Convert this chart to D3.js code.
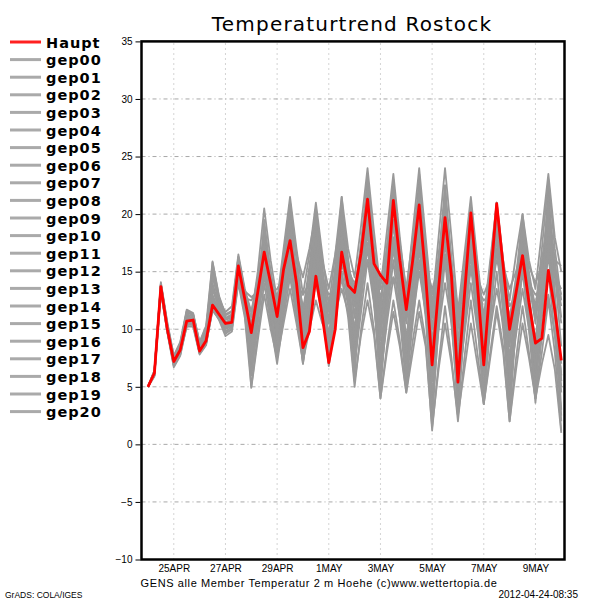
<!DOCTYPE html>
<html><head><meta charset="utf-8">
<script src="https://cdn.jsdelivr.net/npm/d3@7"></script>
<style>body{margin:0;background:#fff} svg{display:block}</style>
</head><body><svg id="c" width="600" height="600"></svg>
<script>
// 6-hourly steps from 24APR 00Z to 10MAY 00Z
const stepHours = 6;
const xTickHours = [24, 72, 120, 168, 216, 264, 312, 360];
const xTickLabels = ["25APR", "27APR", "29APR", "1MAY", "3MAY", "5MAY", "7MAY", "9MAY"];
const yTicks = [-10, -5, 0, 5, 10, 15, 20, 25, 30, 35];
const legendNames = ["Haupt","gep00","gep01","gep02","gep03","gep04","gep05","gep06","gep07","gep08","gep09","gep10","gep11","gep12","gep13","gep14","gep15","gep16","gep17","gep18","gep19","gep20"];

const haupt = [5.0,6.2,13.7,10.0, 7.2,8.2,10.7,10.8, 8.1,9.0,12.1,11.3, 10.5,10.6,15.5,12.6, 9.7,13.2,16.7,14.0, 11.1,15.2,17.7,14.0, 8.4,9.8,14.6,11.1, 7.1,10.0,16.7,13.8, 13.2,16.6,21.3,15.7, 14.7,14.0,21.2,16.0, 11.7,16.0,20.8,14.6, 6.9,13.5,19.7,14.6, 5.4,12.9,20.1,14.0, 6.9,14.0,20.9,15.5, 10.0,13.2,16.4,12.3, 8.8,9.2,15.1,11.7, 7.3];

const gep00 = [5.0,6.1,13.5,10.1, 7.0,8.0,10.9,10.6, 8.0,9.2,12.6,11.5, 10.2,10.8,15.2,12.4, 9.0,12.8,17.5,14.2, 10.5,14.6,19.0,15.0, 10.2,13.0,17.5,13.6, 9.5,13.8,19.5,15.2, 11.0,16.0,22.0,16.5, 10.2,15.0,20.5,15.0, 9.0,14.5,19.8,14.0, 8.0,14.5,21.0,15.2, 9.0,13.2,17.5,13.0, 8.0,13.0,18.2,13.5, 7.5,12.0,17.0,12.8, 9.0,14.5,20.5,15.0, 10.5];
const gep01 = [5.0,6.3,13.8,10.2, 7.4,8.4,10.4,10.5, 8.3,9.3,11.8,11.0, 10.3,10.4,14.8,12.0, 8.5,11.5,14.5,12.0, 9.0,12.5,15.5,12.5, 8.0,11.0,14.0,11.2, 7.5,11.0,15.0,12.0, 7.0,11.5,16.0,12.2, 6.0,10.5,14.5,11.0, 7.5,11.0,15.0,11.5, 6.0,10.0,14.0,10.5, 5.0,9.5,14.0,10.0, 6.5,10.0,13.5,10.5, 5.5,9.5,13.5,10.0, 6.0,9.5,13.0,9.5, 5.0];
const gep02 = [5.0,6.0,13.2,9.8, 6.8,7.8,11.2,10.9, 7.9,8.7,13.5,11.8, 9.6,10.0,16.0,13.0, 6.0,11.0,19.5,14.5, 8.0,14.0,20.5,14.0, 7.5,13.5,20.0,13.5, 7.0,14.5,21.5,14.5, 6.0,15.0,23.5,15.0, 5.0,14.5,23.0,14.0, 5.5,14.5,23.5,14.5, 2.5,12.5,22.5,13.0, 3.0,12.0,21.0,12.5, 4.0,12.5,21.0,12.5, 3.5,11.5,19.0,11.0, 4.0,13.0,22.5,13.0, 3.0];
const gep03 = [5.0,6.4,14.0,10.5, 7.6,8.8,11.5,11.2, 8.6,9.8,15.8,12.8, 11.2,11.5,16.3,13.3, 12.8,13.2,13.5,13.2, 13.5,14.5,15.0,14.0, 13.0,14.0,16.0,14.5, 13.0,13.5,15.5,14.5, 12.5,13.5,16.0,14.0, 13.0,13.0,14.5,13.5, 12.0,12.5,15.5,14.0, 11.0,12.5,16.5,13.5, 12.0,13.0,15.0,13.5, 12.5,13.0,16.0,14.5, 12.0,13.0,15.5,14.0, 13.0,13.5,16.5,14.5, 13.5];
const gep04 = [5.0,6.2,13.6,9.8, 7.1,8.1,10.6,10.7, 8.2,9.1,12.3,11.4, 10.4,10.7,15.8,12.8, 10.5,13.5,17.8,14.8, 11.5,15.5,18.5,14.5, 9.0,12.5,17.0,13.0, 8.0,12.5,18.0,14.0, 10.0,15.0,20.5,15.0, 8.0,13.5,19.5,14.5, 10.5,15.0,19.0,14.0, 9.0,13.5,18.0,13.5, 7.0,12.5,18.5,13.5, 9.0,13.5,18.5,14.0, 10.5,14.0,18.5,14.5, 11.0,15.5,19.5,15.0, 12.0];
const gep05 = [5.0,6.0,13.9,10.4, 7.5,8.5,11.0,11.0, 8.4,9.5,14.0,12.0, 10.8,11.0,15.0,12.2, 8.0,12.0,16.0,12.5, 9.5,13.5,17.0,13.0, 9.5,12.5,16.5,12.5, 11.0,14.5,18.5,15.5, 13.5,17.0,21.5,17.0, 12.5,16.0,21.5,16.5, 11.5,16.0,21.0,15.5, 10.0,15.5,20.0,15.0, 10.0,14.5,19.0,14.0, 9.5,14.5,20.0,15.0, 9.0,13.0,17.0,12.5, 7.0,12.0,17.5,12.0, 6.0];
const gep06 = [5.0,6.1,13.4,9.9, 6.9,7.9,10.2,10.3, 7.9,8.8,11.6,10.9, 9.8,10.2,14.3,11.5, 6.5,10.5,15.0,11.0, 7.5,11.5,16.0,12.0, 7.0,11.5,17.0,12.5, 8.0,12.0,17.0,12.5, 8.5,13.0,18.5,13.0, 7.0,12.0,17.5,12.0, 6.0,11.5,17.0,11.5, 5.5,11.0,16.5,11.0, 4.0,10.5,16.5,11.0, 5.0,11.0,17.0,11.5, 5.0,10.0,15.0,10.5, 5.5,11.0,16.5,11.0, 5.5];
const gep07 = [5.0,6.3,13.7,10.3, 7.3,8.6,11.5,11.3, 8.7,9.9,15.2,12.5, 11.0,11.3,16.0,13.0, 11.0,15.0,20.5,16.0, 12.5,17.0,21.5,17.0, 13.0,16.5,21.0,16.5, 12.0,16.5,21.5,17.0, 14.5,19.0,24.0,18.5, 13.5,18.5,23.5,18.0, 13.0,18.5,24.0,18.0, 12.0,18.0,24.0,18.0, 11.5,16.5,21.5,16.0, 11.0,16.0,21.0,16.0, 12.5,16.5,20.0,16.0, 13.5,18.5,23.5,18.0, 15.0];
const gep08 = [5.0,5.9,13.3,9.7, 6.7,7.7,10.3,10.2, 7.8,8.6,11.8,10.8, 9.4,9.8,14.0,11.0, 5.0,9.5,14.0,10.5, 7.0,11.0,14.5,11.0, 7.5,11.0,15.0,11.5, 6.8,10.5,14.5,11.0, 5.0,10.0,14.0,10.0, 4.0,8.5,12.5,9.0, 4.5,9.0,12.5,9.0, 1.2,7.0,12.0,7.5, 2.0,7.5,12.5,8.0, 3.5,8.0,12.0,8.5, 2.0,7.5,12.0,8.0, 4.0,8.0,12.5,8.0, 1.2];
const gep09 = [5.0,6.2,14.1,10.6, 7.7,8.9,11.7,11.4, 8.8,10.2,14.5,12.5, 11.5,12.0,16.5,13.5, 11.5,14.0,16.0,14.0, 12.0,16.0,20.0,16.5, 14.5,17.0,20.0,16.0, 13.5,16.5,20.0,16.0, 12.0,16.0,20.0,15.5, 11.0,15.0,19.0,15.0, 12.0,15.5,18.5,15.5, 13.0,16.0,19.0,15.0, 9.0,13.5,17.0,13.0, 8.5,13.0,18.5,13.5, 8.5,13.5,18.5,14.0, 10.5,15.0,21.0,16.0, 11.0];
const gep10 = [5.0,6.0,13.5,10.0, 7.0,8.0,10.5,10.6, 8.0,8.9,11.9,11.1, 10.0,10.3,15.0,12.0, 7.5,12.0,18.5,13.5, 9.0,13.5,18.0,13.5, 8.0,13.0,19.0,14.0, 7.5,13.0,19.0,14.0, 7.5,14.0,21.0,14.5, 6.0,13.5,21.5,14.0, 7.0,14.0,22.0,14.5, 4.0,12.5,21.5,13.0, 5.5,12.5,20.0,13.0, 4.5,12.0,20.5,13.0, 3.0,11.0,19.5,12.0, 5.0,12.0,19.0,12.0, 4.5];
const gep11 = [5.0,6.4,13.9,10.3, 7.4,8.3,10.9,10.9, 8.3,9.4,13.0,11.6, 10.6,10.9,15.6,12.9, 9.0,13.0,17.0,13.5, 10.0,14.0,17.5,13.0, 8.5,12.0,16.0,12.0, 9.0,13.0,17.5,13.5, 9.5,14.5,19.5,14.5, 9.5,14.0,18.0,13.5, 8.0,13.0,18.0,13.0, 7.0,13.0,19.0,14.0, 8.0,13.0,18.0,13.0, 7.0,12.5,18.0,13.0, 6.5,12.5,17.5,12.0, 7.5,12.5,18.0,12.5, 7.0];
const gep12 = [5.0,6.1,13.6,10.1, 7.2,8.3,10.8,10.8, 8.1,9.0,12.4,11.3, 10.5,10.6,15.4,12.5, 10.0,13.5,19.0,15.0, 11.0,15.5,21.0,16.0, 11.5,15.5,20.5,15.5, 10.5,15.5,21.0,16.0, 11.0,17.0,23.0,17.0, 12.0,17.0,22.5,17.5, 11.0,17.0,22.5,16.5, 8.5,15.5,22.5,16.0, 7.5,14.0,20.5,14.5, 8.0,14.0,19.5,14.0, 7.0,13.0,18.0,13.0, 8.0,14.5,21.5,15.0, 8.5];
const gep13 = [5.0,6.2,13.8,10.2, 7.2,8.2,10.6,10.7, 8.2,9.1,12.0,11.2, 10.4,10.5,15.1,12.4, 7.0,11.5,15.5,11.5, 8.0,12.0,15.0,11.5, 7.0,11.0,15.5,11.5, 8.5,12.5,16.0,12.5, 9.0,13.0,17.0,12.5, 5.5,11.0,16.0,11.0, 5.0,10.5,16.0,11.0, 3.0,10.0,16.0,10.5, 3.5,10.0,15.5,10.5, 4.0,10.0,15.0,10.0, 4.0,10.0,15.5,10.0, 3.6,9.5,15.0,9.5, 2.5];
const gep14 = [5.0,6.3,13.7,10.0, 7.3,8.4,11.3,11.1, 8.5,9.6,14.8,12.2, 10.9,11.2,15.9,13.1, 11.5,14.5,18.0,15.0, 12.0,16.5,21.0,16.5, 11.0,15.0,19.0,15.0, 10.5,14.5,19.5,15.0, 12.5,17.5,22.5,17.0, 11.5,17.0,22.5,17.5, 13.5,18.0,22.0,17.0, 11.0,16.5,21.5,16.0, 10.5,15.5,20.5,15.5, 10.0,15.5,21.0,16.0, 9.5,14.5,20.0,15.0, 11.5,17.0,23.0,17.0, 12.5];
const gep15 = [5.0,6.1,13.5,10.0, 7.1,8.1,10.5,10.5, 8.0,8.9,12.0,11.0, 10.1,10.4,14.6,12.1, 8.5,12.5,17.0,13.0, 9.5,13.0,16.5,12.5, 9.0,12.5,16.5,12.5, 8.5,12.5,17.0,13.0, 8.0,12.5,17.5,12.5, 7.5,12.5,17.0,12.5, 9.0,13.5,17.5,12.5, 6.5,12.0,17.5,12.5, 6.0,11.5,17.0,12.0, 6.0,11.5,17.0,12.0, 6.0,11.5,16.5,11.5, 6.5,12.0,17.0,11.5, 6.0];
const gep16 = [5.0,6.2,13.6,10.1, 7.2,8.0,10.8,10.9, 8.2,9.2,12.8,11.6, 10.6,10.8,15.7,12.8, 10.0,13.0,18.0,14.5, 11.0,14.5,18.5,14.5, 10.5,14.0,18.5,14.5, 11.5,15.0,20.0,15.5, 13.0,17.5,22.0,17.0, 14.0,17.0,21.0,16.5, 12.5,16.5,21.5,16.5, 11.5,16.0,20.5,15.5, 11.0,15.0,19.0,14.5, 10.5,15.0,19.0,14.5, 11.0,14.5,18.0,14.5, 12.0,16.0,20.0,15.5, 13.0];
const gep17 = [5.0,6.0,13.4,9.8, 6.9,7.8,10.4,10.4, 7.9,8.7,11.7,10.9, 9.7,10.0,14.2,11.3, 6.0,10.5,16.0,11.5, 8.0,12.5,17.0,12.5, 8.0,12.5,18.0,13.0, 7.0,12.0,18.0,12.5, 6.5,13.0,19.5,13.0, 4.5,12.0,19.5,12.5, 5.5,12.0,19.0,12.5, 2.0,10.5,19.5,11.5, 2.5,10.5,19.0,11.0, 3.5,11.0,19.5,11.5, 2.5,10.5,18.5,11.0, 4.5,12.5,21.0,12.0, 2.0];
const gep18 = [5.0,6.3,13.9,10.4, 7.5,8.6,11.3,11.1, 8.6,9.7,13.6,12.0, 10.9,11.1,15.3,12.7, 12.5,13.5,14.5,13.5, 13.0,14.0,16.0,14.5, 12.0,13.5,16.5,14.5, 12.5,14.0,17.0,15.0, 14.0,15.5,18.5,15.5, 13.5,14.5,17.0,15.0, 13.0,14.5,17.0,15.5, 13.5,15.0,17.5,15.0, 12.0,13.5,16.5,14.5, 13.0,14.5,17.5,15.5, 13.5,15.0,17.5,15.5, 14.0,15.5,18.0,16.0, 15.5];
const gep19 = [5.0,6.2,13.7,10.0, 7.1,8.3,10.7,10.6, 8.1,9.0,12.2,11.2, 10.3,10.5,15.2,12.3, 8.0,12.0,17.5,13.0, 10.0,14.5,19.5,14.5, 9.5,14.0,19.5,14.5, 9.0,14.0,20.5,15.0, 9.0,15.0,22.0,15.5, 9.0,15.5,22.5,15.5, 8.5,15.0,22.0,15.0, 5.5,13.5,22.0,14.5, 6.5,13.0,20.5,13.5, 7.0,13.5,20.5,14.0, 6.0,12.5,19.0,13.0, 6.5,13.0,20.0,13.0, 5.5];
const gep20 = [5.0,6.4,13.8,10.3, 7.4,8.7,11.6,11.3, 8.9,10.3,15.9,12.9, 11.3,11.6,16.2,13.2, 4.9,9.0,13.0,10.0, 7.5,10.5,13.5,10.5, 7.2,10.0,12.5,10.5, 9.5,11.5,13.5,11.5, 5.5,9.5,12.5,9.5, 4.0,8.0,11.5,8.5, 4.5,8.0,11.5,8.5, 1.5,6.5,10.5,7.0, 2.5,6.5,10.5,7.0, 3.5,7.5,11.5,8.0, 2.0,6.5,10.5,7.5, 4.0,7.0,9.5,6.5, 1.0];

const members = [gep00,gep01,gep02,gep03,gep04,gep05,gep06,gep07,gep08,gep09,gep10,gep11,gep12,gep13,gep14,gep15,gep16,gep17,gep18,gep19,gep20];

const svg = d3.select("#c");
const x = d3.scaleLinear().domain([-6, 387]).range([141.5, 564.5]);
const y = d3.scaleLinear().domain([-10, 35]).range([559.5, 41.4]);
const gridCol = "#a8a8a8";

// horizontal grid
svg.append("g").selectAll("line").data(yTicks.filter(t => t > -10 && t < 35)).join("line")
  .attr("x1", x.range()[0]).attr("x2", x.range()[1])
  .attr("y1", d => y(d)).attr("y2", d => y(d))
  .attr("stroke", gridCol).attr("stroke-width", 1).attr("stroke-dasharray", "4,3,1,3");
// vertical grid
svg.append("g").selectAll("line").data(xTickHours).join("line")
  .attr("x1", d => x(d)).attr("x2", d => x(d))
  .attr("y1", y.range()[0]).attr("y2", y.range()[1])
  .attr("stroke", gridCol).attr("stroke-width", 1).attr("stroke-dasharray", "1,4");

const line = d3.line().x((d, i) => x(i * stepHours)).y(d => y(d));
svg.append("g").selectAll("path").data(members).join("path")
  .attr("d", line).attr("fill", "none").attr("stroke", "#999999").attr("stroke-width", 1.8)
  .attr("stroke-linejoin", "round");
svg.append("path").datum(haupt).attr("d", line).attr("fill", "none")
  .attr("stroke", "#ff0000").attr("stroke-width", 2.8).attr("stroke-linejoin", "round");

// frame
svg.append("rect").attr("x", x.range()[0]).attr("y", y.range()[1])
  .attr("width", x.range()[1] - x.range()[0]).attr("height", y.range()[0] - y.range()[1])
  .attr("fill", "none").attr("stroke", "#000").attr("stroke-width", 2.5);

// y axis
const yAxis = d3.axisLeft(y).tickValues(yTicks).tickSize(5).tickPadding(3)
  .tickFormat(d => d < 0 ? "\u2212" + Math.abs(d) : d);
const ga = svg.append("g").attr("transform", `translate(${x.range()[0] - 1},0)`).call(yAxis);
ga.select(".domain").remove();
ga.selectAll("text").attr("font-family", "Liberation Sans, Arial, sans-serif").attr("font-size", 10).attr("fill", "#000");
ga.selectAll("line").attr("stroke", "#000");

// x axis labels
const xAxis = d3.axisBottom(x).tickValues(xTickHours).tickSize(0).tickPadding(5)
  .tickFormat((d, i) => xTickLabels[i]);
const gx = svg.append("g").attr("transform", `translate(0,${y.range()[0]})`).call(xAxis);
gx.select(".domain").remove();
gx.selectAll("text").attr("font-family", "Liberation Sans, Arial, sans-serif").attr("font-size", 10).attr("fill", "#000");

// title
svg.append("text").attr("x", 352).attr("y", 31).attr("text-anchor", "middle")
  .attr("font-family", "DejaVu Sans, sans-serif").attr("font-size", 20).attr("letter-spacing", 1.2)
  .text("Temperaturtrend Rostock");

// legend
const lg = svg.append("g");
legendNames.forEach((n, i) => {
  const yy = 42 + i * 17.6;
  lg.append("line").attr("x1", 10).attr("x2", 41).attr("y1", yy).attr("y2", yy)
    .attr("stroke", i === 0 ? "#ff2020" : "#aaaaaa").attr("stroke-width", 3);
  lg.append("text").attr("x", 46).attr("y", yy + 5.5)
    .attr("font-family", "DejaVu Sans, sans-serif").attr("font-weight", "bold").attr("font-size", 14.5)
    .attr("letter-spacing", 1).text(n);
});

// footer texts
svg.append("text").attr("x", 319).attr("y", 587).attr("text-anchor", "middle")
  .attr("font-family", "Liberation Sans, Arial, sans-serif").attr("font-size", 11).attr("letter-spacing", 0.6)
  .text("GENS alle Member Temperatur 2 m Hoehe (c)www.wettertopia.de");
svg.append("text").attr("x", 5).attr("y", 598)
  .attr("font-family", "Liberation Sans, Arial, sans-serif").attr("font-size", 8.5)
  .text("GrADS: COLA/IGES");
svg.append("text").attr("x", 578).attr("y", 598).attr("text-anchor", "end")
  .attr("font-family", "Liberation Sans, Arial, sans-serif").attr("font-size", 10)
  .text("2012-04-24-08:35");
</script></body></html>
